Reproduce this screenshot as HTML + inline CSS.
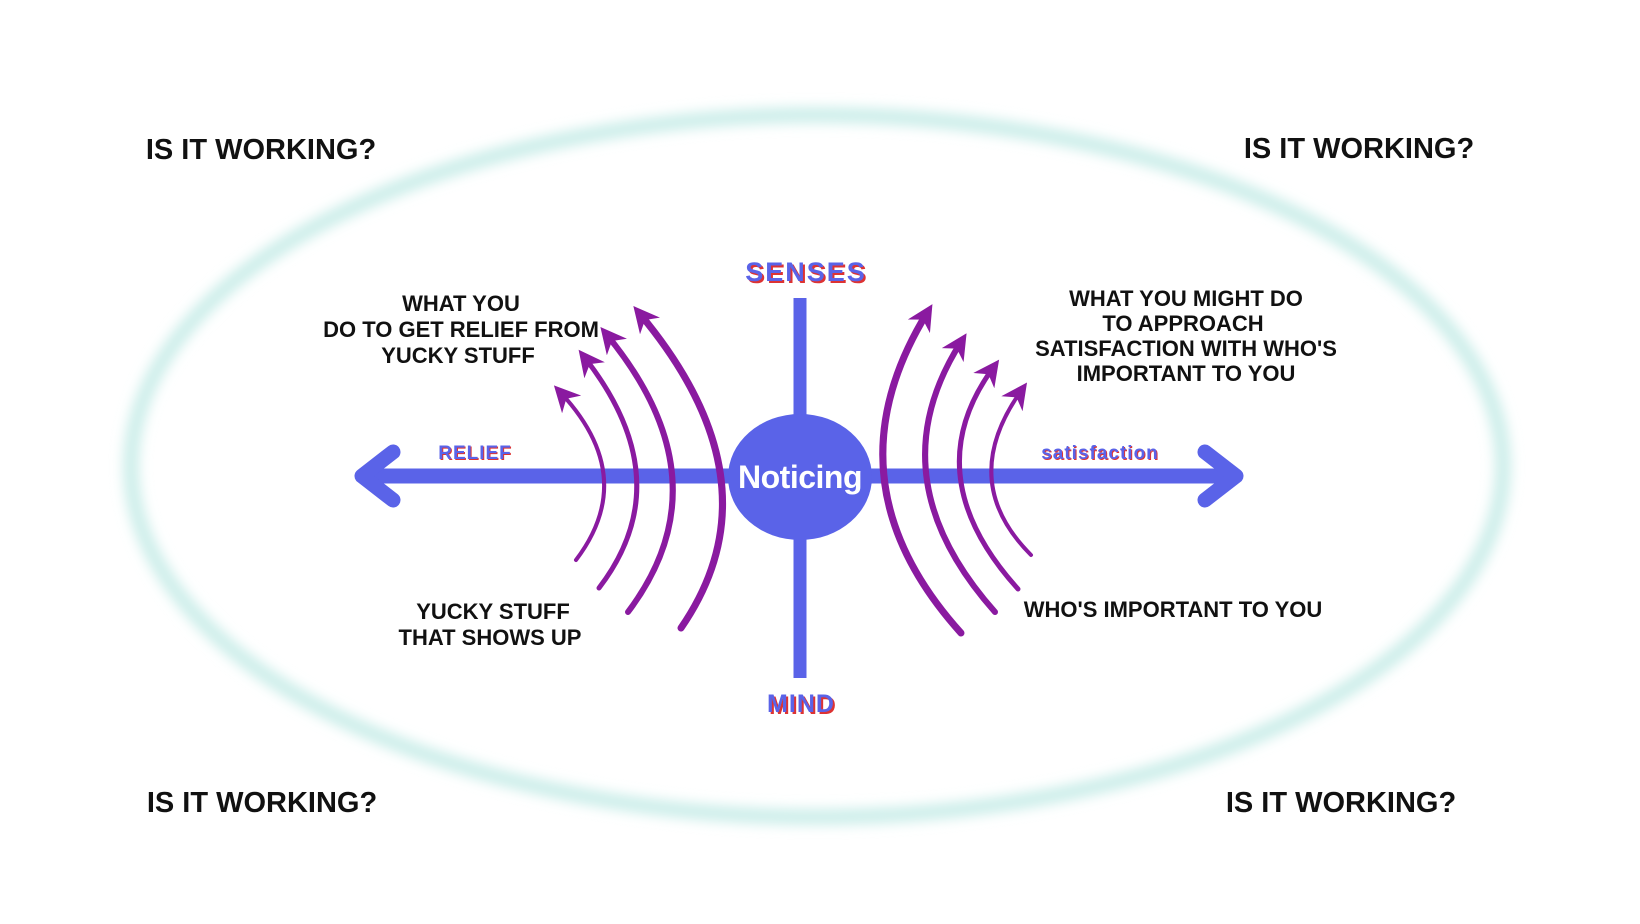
<!DOCTYPE html>
<html><head><meta charset="utf-8"><style>
html,body{margin:0;padding:0;background:#fff;}
svg{display:block}
.t{font-family:"Liberation Sans Narrow","Liberation Sans",sans-serif;font-weight:bold;fill:#111;text-anchor:middle}
.lab{font-family:"Liberation Sans",sans-serif;font-weight:900;text-anchor:middle;fill:#5a63e8}
</style></head><body>
<svg width="1640" height="924" viewBox="0 0 1640 924" xmlns="http://www.w3.org/2000/svg">
<defs>
<filter id="blur" x="-10%" y="-10%" width="120%" height="120%"><feGaussianBlur stdDeviation="6"/></filter>
<marker id="ah" viewBox="0 0 10 10" refX="6" refY="5" markerWidth="26" markerHeight="26" markerUnits="userSpaceOnUse" orient="auto">
<path d="M0,0 L10,5 L0,10 L3,5 Z" fill="#8a1aa0"/></marker>
</defs>
<rect width="1640" height="924" fill="#fff"/>
<ellipse cx="817" cy="466" rx="686" ry="351" fill="none" stroke="#cdeeea" stroke-width="16" filter="url(#blur)"/>

<!-- axes -->
<line x1="800" y1="298" x2="800" y2="678" stroke="#5a63e8" stroke-width="13"/>
<line x1="366" y1="476" x2="1232" y2="476" stroke="#5a63e8" stroke-width="15"/>
<polyline points="393,452 362,476 393,500" fill="none" stroke="#5a63e8" stroke-width="15" stroke-linecap="round" stroke-linejoin="round"/>
<polyline points="1205,452 1236,476 1205,500" fill="none" stroke="#5a63e8" stroke-width="15" stroke-linecap="round" stroke-linejoin="round"/>

<!-- arcs left -->
<g fill="none" stroke="#8a1aa0" stroke-linecap="round">
<path d="M681,628 Q781,483 640,314" stroke-width="7" marker-end="url(#ah)"/>
<path d="M628,612 Q727,481 607,335" stroke-width="6" marker-end="url(#ah)"/>
<path d="M599,588 Q681,481 585,358" stroke-width="5" marker-end="url(#ah)"/>
<path d="M576,560 Q639,477 561,393" stroke-width="4" marker-end="url(#ah)"/>
<path d="M961,633 Q824,481 927,313" stroke-width="7" marker-end="url(#ah)"/>
<path d="M995,612 Q875,477 961,342" stroke-width="6" marker-end="url(#ah)"/>
<path d="M1018,589 Q915,475 993,368" stroke-width="5" marker-end="url(#ah)"/>
<path d="M1031,555 Q957,481 1021,391" stroke-width="4" marker-end="url(#ah)"/>
</g>

<ellipse cx="800" cy="477" rx="72" ry="63" fill="#5a63e8"/>
<text x="800" y="488" fill="#fff" font-family="Liberation Sans,sans-serif" font-weight="bold" font-size="32" text-anchor="middle" letter-spacing="-0.5">Noticing</text>

<!-- axis labels -->
<g class="lab">
<text x="808" y="283" font-size="27" fill="#d33" letter-spacing="2">SENSES</text>
<text x="806" y="281" font-size="27" letter-spacing="2">SENSES</text>
<text x="803" y="714" font-size="25" fill="#d33" letter-spacing="1">MIND</text>
<text x="801" y="712" font-size="25" letter-spacing="1">MIND</text>
<text x="476" y="460" font-size="19" fill="#d33" letter-spacing="1">RELIEF</text>
<text x="475" y="459" font-size="19" letter-spacing="1">RELIEF</text>
<text x="1101" y="460" font-size="19" fill="#d33" letter-spacing="1">satisfaction</text>
<text x="1100" y="459" font-size="19" letter-spacing="1">satisfaction</text>
</g>

<g class="t" font-size="29">
<text x="261" y="159">IS IT WORKING?</text>
<text x="1359" y="158">IS IT WORKING?</text>
<text x="262" y="812">IS IT WORKING?</text>
<text x="1341" y="812">IS IT WORKING?</text>
</g>
<g class="t" font-size="22">
<text x="461" y="311">WHAT YOU</text>
<text x="461" y="337">DO TO GET RELIEF FROM</text>
<text x="458" y="363">YUCKY STUFF</text>
<text x="493" y="619">YUCKY STUFF</text>
<text x="490" y="645">THAT SHOWS UP</text>
<text x="1186" y="306">WHAT YOU MIGHT  DO</text>
<text x="1183" y="331">TO APPROACH</text>
<text x="1186" y="356">SATISFACTION WITH WHO'S</text>
<text x="1186" y="381">IMPORTANT TO YOU</text>
<text x="1173" y="617">WHO'S IMPORTANT TO YOU</text>
</g>
</svg>
</body></html>
